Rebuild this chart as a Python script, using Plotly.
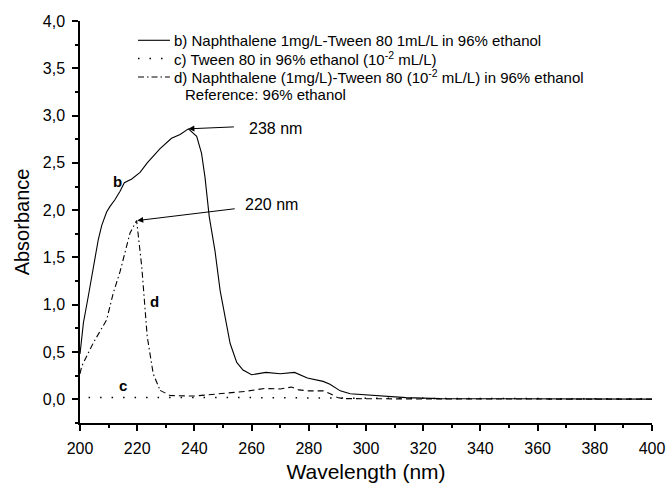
import plotly.graph_objects as go

# ---- data ----
b_nm = [200, 201.2, 202.9, 204.7, 206.4, 207.6, 209.3, 210.5, 212.2, 214, 215.5, 218.1, 221, 223.5,
        228, 232, 235, 237.9, 240.8, 242.5, 243.7, 245.2, 247.2, 249, 250.7, 252.5, 254.8, 257,
        260, 265, 270, 275, 279.5, 285, 287.4, 291, 294.5, 302.6, 314, 326, 350, 400]
b_abs = [0.48, 0.81, 1.09, 1.40, 1.69, 1.84, 1.98, 2.04, 2.11, 2.20, 2.29, 2.33, 2.40, 2.50,
         2.65, 2.76, 2.80, 2.86, 2.78, 2.60, 2.35, 1.93, 1.57, 1.15, 0.87, 0.59, 0.39, 0.31,
         0.26, 0.285, 0.27, 0.285, 0.225, 0.19, 0.16, 0.09, 0.06, 0.04, 0.018, 0.008, 0.004, 0.002]

c_nm = [203, 250, 300, 350, 400]
c_abs = [0.02, 0.02, 0.012, 0.006, 0.005]

d_nm = [200, 200.6, 204.7, 209.3, 211.6, 214, 217.5, 219.8, 221.6, 223.5, 225.6, 228]
d_abs = [0.27, 0.35, 0.60, 0.84, 1.12, 1.35, 1.76, 1.89, 1.40, 0.665, 0.27, 0.095]

e_nm = [228, 231.5, 240, 249, 258, 264.5, 270, 274, 276.5, 280, 285, 287.5, 290, 292, 300, 320, 400]
e_abs = [0.095, 0.04, 0.035, 0.06, 0.085, 0.115, 0.11, 0.13, 0.10, 0.09, 0.09, 0.06, 0.02, 0.008,
         0.005, 0.004, 0.002]

legend_labels = [
    "b) Naphthalene 1mg/L-Tween 80 1mL/L in 96% ethanol",
    "c) Tween 80 in 96% ethanol (10<sup>-2</sup> mL/L)",
    "d) Naphthalene (1mg/L)-Tween 80 (10<sup>-2</sup> mL/L) in 96% ethanol",
]
legend_note = "Reference: 96% ethanol"

FONT = "Arial, Liberation Sans, sans-serif"
SOLID = "solid"
DOT = "1.5px,10px"
DASHDOT = "6px,3px,1.5px,3px"
DASH = "6px,4px"

fig = go.Figure()
fig.add_trace(go.Scatter(x=b_nm, y=b_abs, mode="lines", line=dict(color="black", width=1.1, dash=SOLID),
                         showlegend=False))
fig.add_trace(go.Scatter(x=c_nm, y=c_abs, mode="lines", line=dict(color="black", width=1.5, dash=DOT),
                         showlegend=False))
fig.add_trace(go.Scatter(x=d_nm, y=d_abs, mode="lines", line=dict(color="black", width=1.1, dash=DASHDOT),
                         showlegend=False))
fig.add_trace(go.Scatter(x=e_nm, y=e_abs, mode="lines", line=dict(color="black", width=1.1, dash=DASH),
                         showlegend=False))

annotations = []
shapes = []
# manual legend (paper coords)
rows_y = [0.952, 0.9065, 0.8608]
styles = [(SOLID, 1.1), (DOT, 1.5), (DASHDOT, 1.1)]
for yy, lab, (dsh, w) in zip(rows_y, legend_labels, styles):
    shapes.append(dict(type="line", xref="paper", yref="paper", x0=0.1014, x1=0.1573, y0=yy, y1=yy,
                       line=dict(color="black", width=w, dash=dsh)))
    annotations.append(dict(xref="paper", yref="paper", x=0.1600, y=yy, text=lab, showarrow=False,
                            xanchor="left", yanchor="middle", font=dict(family=FONT, size=15, color="black")))
annotations.append(dict(xref="paper", yref="paper", x=0.1800, y=0.8175, text=legend_note, showarrow=False,
                        xanchor="left", yanchor="middle", font=dict(family=FONT, size=15, color="black")))

# curve labels
for txt, xx, yy in [("b", 213, 2.30), ("d", 226.2, 1.03), ("c", 215.1, 0.145)]:
    annotations.append(dict(x=xx, y=yy, text="<b>%s</b>" % txt, showarrow=False,
                            font=dict(family=FONT, size=15, color="black")))

# arrows
annotations.append(dict(x=237.9, y=2.86, text="", showarrow=True, ax=47, ay=-2, arrowhead=2,
                        arrowsize=1.2, arrowwidth=1, arrowcolor="black"))
annotations.append(dict(x=258.3, y=2.864, text="238 nm", showarrow=False, xanchor="left",
                        font=dict(family=FONT, size=16, color="black")))
annotations.append(dict(x=220.0, y=1.89, text="", showarrow=True, ax=99, ay=-12, arrowhead=2,
                        arrowsize=1.2, arrowwidth=1, arrowcolor="black"))
annotations.append(dict(x=256.9, y=2.055, text="220 nm", showarrow=False, xanchor="left",
                        font=dict(family=FONT, size=16, color="black")))

fig.update_layout(
    width=667, height=483, autosize=False,
    margin=dict(l=80, r=15, t=21, b=60, autoexpand=False),
    paper_bgcolor="white", plot_bgcolor="white",
    separators=",.",
    font=dict(family=FONT, size=16, color="black"),
    annotations=annotations, shapes=shapes,
    showlegend=False,
)
fig.update_xaxes(range=[200, 400], dtick=20, tick0=200, showgrid=False, zeroline=False, automargin=False,
                 showline=True, linecolor="black", linewidth=1.5,
                 ticks="outside", ticklen=6, tickwidth=1.5, tickcolor="black", ticklabelstandoff=4,
                 minor=dict(dtick=10, ticks="outside", ticklen=3, tickwidth=1.5, tickcolor="black"),
                 tickfont=dict(family=FONT, size=16, color="black"),
                 title=dict(text="Wavelength (nm)", font=dict(family=FONT, size=21, color="black"), standoff=10))
fig.update_yaxes(range=[-0.25, 4.0], dtick=0.5, tick0=0, tickformat=".1f", showgrid=False, zeroline=False,
                 automargin=False,
                 showline=True, linecolor="black", linewidth=1.5,
                 ticks="outside", ticklen=6, tickwidth=1.5, tickcolor="black", ticklabelstandoff=4,
                 minor=dict(dtick=0.25, ticks="outside", ticklen=3, tickwidth=1.5, tickcolor="black"),
                 tickfont=dict(family=FONT, size=16, color="black"),
                 title=dict(text="Absorbance", font=dict(family=FONT, size=20, color="black"), standoff=8))

fig.write_html("out.html")
